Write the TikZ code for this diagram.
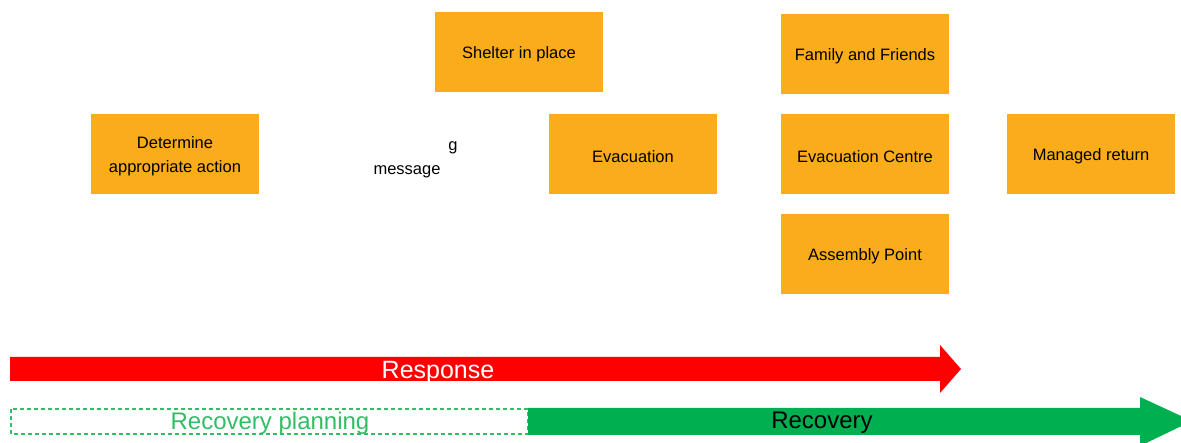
\documentclass[tikz,border=0pt]{standalone}
\usepackage{fontspec}
\setmainfont{Liberation Sans}
\usepackage{tikz}
\usetikzlibrary{shapes}

\definecolor{boxorange}{RGB}{250,172,26}
\definecolor{recgreen}{RGB}{0,176,80}
\definecolor{plangreen}{RGB}{50,190,100}
\newcommand{\dn}[1]{\raisebox{-2.5pt}[\height][\depth]{#1}}

\begin{document}
\begin{tikzpicture}[x=1pt, y=-1pt,
		box/.style={rectangle, fill=boxorange, minimum width=168pt, minimum height=80pt, align=center, font=\fontsize{16.5}{24}\selectfont},
		plain/.style={font=\fontsize{16.5}{24}\selectfont},
		bartext/.style={font=\fontsize{24}{28}\selectfont}]
				\useasboundingbox (0,0) rectangle (1181,443);
				% action boxes
				\node[box] (det) at (175,154) {\dn{Determine}\\\dn{appropriate action}};
				\node[box] (shelter) at (519,52) {\dn{Shelter in place}};
				\node[box] (evac) at (633,154) {\dn{Evacuation}};
				\node[box] (family) at (865,54) {\dn{Family and Friends}};
				\node[box] (centre) at (865,154) {\dn{Evacuation Centre}};
				\node[box] (assembly) at (865,254) {\dn{Assembly Point}};
				\node[box] (return) at (1091,154) {\dn{Managed return}};
				\node[plain] (msg) at (407,172) {message};
				\node[plain] (g) at (453,148) {g};
				% response arrow
				\fill[red] (10,357) -- (940,357) -- (940,345) -- (961,369) -- (940,393) -- (940,381) -- (10,381) -- cycle;
				\node[bartext, white, font=\fontsize{25}{28}\selectfont] (resp) at (438,372) {Response};
				% recovery arrow
				\draw[plangreen, dash pattern=on 4pt off 3pt, fill=white, line width=1.5pt] (11,409) rectangle (528,434);
				\fill[recgreen] (528,408) -- (1140,408) -- (1140,397) -- (1192,421) -- (1140,446) -- (1140,435) -- (528,435) -- cycle;
				\node[bartext, plangreen] (plan) at (270,423) {Recovery planning};
				\node[bartext, black] (rec) at (822,423) {Recovery};
			\end{tikzpicture}
\end{document}
